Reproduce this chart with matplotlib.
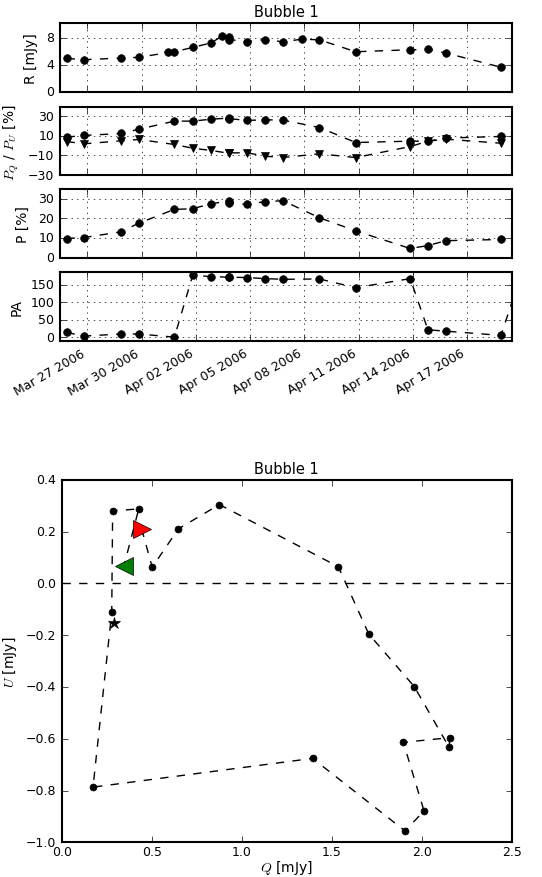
import pandas as pd
import matplotlib
matplotlib.use('Agg')
import matplotlib.pyplot as plt
import matplotlib.dates as mdates
import numpy as np

# radio flux sampling (some epochs have no polarisation)
r_dates = pd.to_datetime([
    '2006-03-25 20:30', '2006-03-26 19:30', '2006-03-28 20:40', '2006-03-29 20:40',
    '2006-03-31 11:30', '2006-03-31 19:40', '2006-04-01 19:50', '2006-04-02 20:20',
    '2006-04-03 11:20', '2006-04-03 19:40', '2006-04-03 19:40', '2006-04-04 20:10',
    '2006-04-05 20:20', '2006-04-06 19:50', '2006-04-07 20:40', '2006-04-08 20:10',
    '2006-04-10 20:20', '2006-04-13 20:40', '2006-04-14 20:10', '2006-04-15 20:10',
    '2006-04-18 21:10'])
r_flux = [4.95, 4.75, 5.0, 5.1, 5.83, 5.93, 6.57, 7.25, 8.28, 8.09, 7.75,
          7.45, 7.75, 7.4, 7.8, 7.7, 5.93, 6.23, 6.27, 5.74, 3.63]

# polarisation epochs
pol_dates = pd.to_datetime([
    '2006-03-25 20:30', '2006-03-26 19:30', '2006-03-28 20:40', '2006-03-29 20:40',
    '2006-03-31 19:40', '2006-04-01 19:50', '2006-04-02 20:20', '2006-04-03 19:40',
    '2006-04-03 19:40', '2006-04-04 20:10', '2006-04-05 20:20', '2006-04-06 19:50',
    '2006-04-08 20:10', '2006-04-10 20:20', '2006-04-13 20:40', '2006-04-14 20:10',
    '2006-04-15 20:10', '2006-04-18 21:10'])
pq = [8.6, 10.3, 12.3, 16.7, 24.9, 24.9, 26.9, 28.0, 27.5, 25.6, 26.3, 25.9,
      18.4, 3.1, 4.5, 4.5, 7.6, 9.3]
pu = [4.1, 1.8, 4.8, 6.2, 1.1, -2.7, -5.0, -7.8, -7.4, -7.4, -10.8, -12.2,
      -8.4, -12.2, -1.0, 4.5, 6.5, 2.4]
p_frac = [9.7, 10.2, 13.1, 17.6, 24.6, 24.9, 27.5, 28.8, 28.0, 27.1, 28.6, 29.0,
          20.3, 13.6, 4.6, 6.1, 8.6, 9.2]
pa = [14.5, 4, 10, 10, 1, 177, 174, 172, 172, 171, 168, 166, 167, 142, 168,
      22, 18, 6]

# one more epoch just past the plotted window (only PA and P_U)
tail_date = pd.to_datetime(['2006-04-19 21:30'])
tail_pa = [165]
tail_pu = [-2.4]

# Q-U plane, time ordered
q = [0.444, 0.503, 0.648, 0.876, 1.537, 1.706, 1.959, 2.152, 2.157, 1.898,
     2.013, 1.907, 1.394, 0.174, 0.278, 0.283, 0.428, 0.346]
u = [0.210, 0.062, 0.210, 0.304, 0.064, -0.196, -0.399, -0.633, -0.596, -0.614,
     -0.879, -0.956, -0.676, -0.787, -0.112, 0.280, 0.287, 0.068]
star_q, star_u = [0.292], [-0.153]

tick_dates = pd.date_range('2006-03-27', periods=8, freq='3D')

plt.style.use('classic')
plt.rcParams['figure.facecolor'] = 'white'
plt.rcParams['savefig.facecolor'] = 'white'
plt.rcParams['xtick.labelsize'] = 9
plt.rcParams['ytick.labelsize'] = 9

fig = plt.figure(figsize=(5.42, 8.78), dpi=100)

W, H = 542.0, 878.0
def box(l, r, t, b):
    return [l / W, 1 - b / H, (r - l) / W, (b - t) / H]

ax_r = fig.add_axes(box(60, 512, 24, 92.7))
ax_pq = fig.add_axes(box(60, 512, 108.3, 176), sharex=ax_r)
ax_p = fig.add_axes(box(60, 512, 190, 258.5), sharex=ax_r)
ax_pa = fig.add_axes(box(60, 512, 273.3, 342), sharex=ax_r)
ax_qu = fig.add_axes(box(61.7, 511.7, 480.7, 843.3))

ms = 5.5
ax_r.plot(r_dates, r_flux, 'k--', marker='o', ms=ms, mec='k', mfc='k')
ax_r.set_ylim(0, 10.2)
ax_r.set_yticks([0, 4, 8])
ax_r.set_ylabel('R [mJy]', fontsize=10, labelpad=6)
ax_r.set_title('Bubble 1', fontsize=10.5)

ax_pq.plot(pol_dates, pq, 'k--', marker='o', ms=ms, mec='k', mfc='k')
ax_pq.plot(list(pol_dates) + list(tail_date), pu + tail_pu, 'k--', marker='v',
           ms=ms, mec='k', mfc='k')
ax_pq.set_ylim(-30, 39)
ax_pq.set_yticks([-30, -10, 10, 30])
ax_pq.set_ylabel('$P_Q$ / $P_U$ [%]', fontsize=10)

ax_p.plot(pol_dates, p_frac, 'k--', marker='o', ms=ms, mec='k', mfc='k')
ax_p.set_ylim(0, 35)
ax_p.set_yticks([0, 10, 20, 30])
ax_p.set_ylabel('P [%]', fontsize=10, labelpad=6)

ax_pa.plot(list(pol_dates) + list(tail_date), pa + tail_pa, 'k--', marker='o',
           ms=ms, mec='k', mfc='k')
ax_pa.set_ylim(-10, 186)
ax_pa.set_yticks([0, 50, 100, 150])
ax_pa.set_ylabel('PA', fontsize=10)

for ax in (ax_r, ax_pq, ax_p, ax_pa):
    ax.grid(True, color='k', linestyle=':')
    for s in ax.spines.values():
        s.set_linewidth(1.5)
for ax in (ax_r, ax_pq, ax_p):
    plt.setp(ax.get_xticklabels(), visible=False)

ax_pa.set_xlim(pd.Timestamp('2006-03-25 11:45'), pd.Timestamp('2006-04-19 11:45'))
ax_pa.set_xticks(tick_dates)
ax_pa.xaxis.set_major_formatter(mdates.DateFormatter('%b %d %Y'))
plt.setp(ax_pa.get_xticklabels(), rotation=30, ha='right')

# Q-U plane
ax_qu.axhline(0, color='k', linestyle='--')
ax_qu.plot(q, u, 'k--')
ax_qu.plot(q[1:-1], u[1:-1], 'o', color='k', ms=5)
ax_qu.plot(q[0], u[0], '>', mfc='red', mec='k', ms=13)
ax_qu.plot(q[-1], u[-1], '<', mfc='green', mec='k', ms=13)
ax_qu.plot(star_q, star_u, '*', mfc='k', mec='k', ms=9)
ax_qu.set_xlim(0, 2.5)
ax_qu.set_ylim(-1.0, 0.4)
ax_qu.set_xticks(np.arange(0, 2.51, 0.5))
ax_qu.set_yticks(np.arange(-1.0, 0.41, 0.2))
ax_qu.tick_params(axis='x', pad=2)
ax_qu.set_xlabel('$Q$ [mJy]', fontsize=10, labelpad=0)
ax_qu.set_ylabel('$U$ [mJy]', fontsize=10)
ax_qu.set_title('Bubble 1', fontsize=10.5)
for s in ax_qu.spines.values():
    s.set_linewidth(1.5)

fig.savefig('out.png', dpi=100)
